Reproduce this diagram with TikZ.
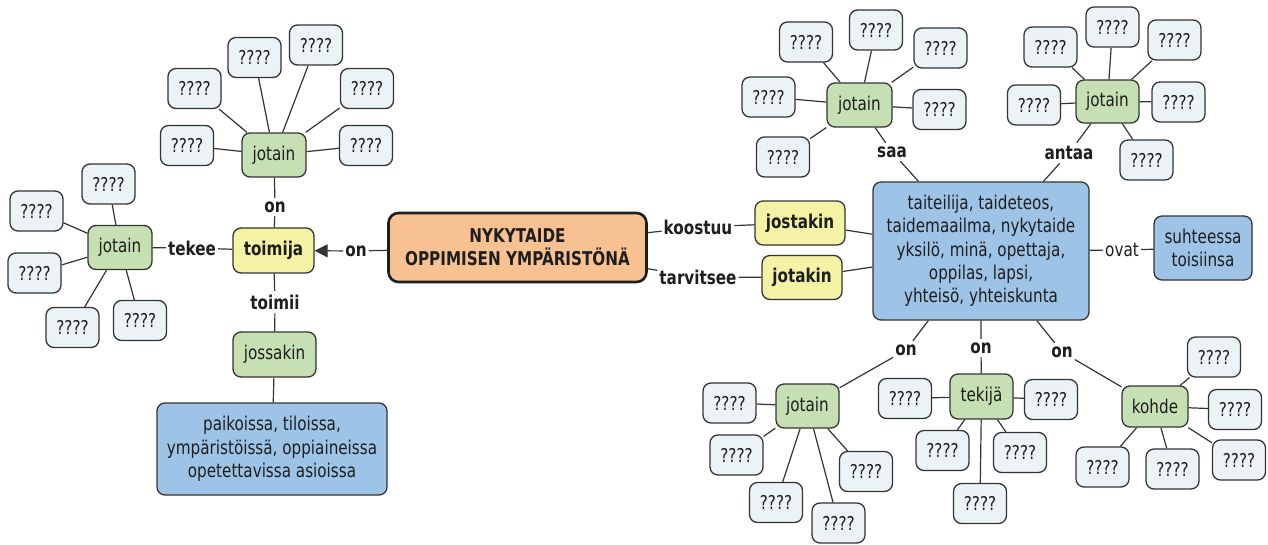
\documentclass[tikz,border=0pt]{standalone}
\usepackage{fontspec}
\setmainfont{DejaVuSans.ttf}[BoldFont=DejaVuSans-Bold.ttf, FakeStretch=0.8]
\usetikzlibrary{arrows.meta}

\definecolor{qfill}{HTML}{EBF3F7}
\definecolor{gfill}{HTML}{C6E0B4}
\definecolor{yfill}{HTML}{F4F2A4}
\definecolor{bfill}{HTML}{9DC3E6}
\definecolor{ofill}{HTML}{F8C192}
\definecolor{edge}{HTML}{333333}
\definecolor{ink}{HTML}{1E1E1E}

\tikzset{
  box/.style={draw=edge, line width=1.3pt, rounded corners=8pt, inner sep=0pt,
              text=ink, align=center},
  qbox/.style={box, fill=qfill, minimum width=53pt, minimum height=40pt},
  gbox/.style={box, fill=gfill, minimum height=44pt},
  ybox/.style={box, fill=yfill, minimum height=44pt, font=\bfseries},
  bbox/.style={box, fill=bfill},
  mainbox/.style={box, fill=ofill, draw=ink, line width=2.6pt, rounded corners=10pt,
                  font=\bfseries},
  link/.style={inner xsep=2pt, inner ysep=3.5pt, text=ink, font=\bfseries},
  plainlink/.style={inner xsep=2pt, inner ysep=3.5pt, text=ink},
  wire/.style={draw=edge, line width=1.2pt},
}

\begin{document}
\begin{tikzpicture}[x=1pt, y=-1pt]
\fontsize{19}{23.3}\selectfont
\useasboundingbox (0,0) rectangle (1268,544);

% ---------- central concept ----------
\node[mainbox, minimum width=258pt, minimum height=69pt] (main) at (517.5,247.5)
  {NYKYTAIDE\\OPPIMISEN YMPÄRISTÖNÄ};

% ---------- left branch: toimija ----------
\node[ybox, minimum width=81pt, minimum height=45pt] (toim) at (273.5,250.5) {toimija};
\node[link] (on0) at (356,251) {on};
\draw[wire] (main) -- (on0);
\draw[wire, -{Triangle[length=13pt, width=13pt]}] (on0) -- (toim);

% upper jotain
\node[gbox, minimum width=64pt] (jA) at (274,155) {jotain};
\node[link] (onA) at (275,207) {on};
\draw[wire] (jA) -- (onA) -- (toim);
\foreach \n/\p in {1/{(187,145.5)}, 2/{(194.5,88.5)}, 3/{(254.5,57.5)},
                   4/{(316,45)}, 5/{(367,88.5)}, 6/{(366,145.5)}} {
  \node[qbox] (qA\n) at \p {????};
  \draw[wire] (jA) -- (qA\n);
}

% left jotain
\node[gbox, minimum width=64pt] (jB) at (120,247.5) {jotain};
\node[link] (tekee) at (192,248) {tekee};
\draw[wire] (jB) -- (tekee) -- (toim);
\foreach \n/\p in {1/{(108.5,184)}, 2/{(36.5,211)}, 3/{(34.5,273)},
                   4/{(72.5,327.5)}, 5/{(140,320.5)}} {
  \node[qbox] (qB\n) at \p {????};
  \draw[wire] (jB) -- (qB\n);
}

% jossakin
\node[link] (toimii) at (275,302) {toimii};
\node[gbox, minimum width=83pt, minimum height=45pt] (joss) at (274.5,354.5) {jossakin};
\node[bbox, minimum width=230pt, minimum height=92pt] (paik) at (272,449)
  {paikoissa, tiloissa,\\ympäristöissä, oppiaineissa\\opetettavissa asioissa};
\draw[wire] (toim) -- (toimii) -- (joss);
\draw[wire] (joss) -- (paik);

% ---------- right branch ----------
\node[ybox, minimum width=90pt] (jost) at (800,223) {jostakin};
\node[ybox, minimum width=80pt] (jota) at (802,277.5) {jotakin};
\node[link] (koost) at (698,227) {koostuu};
\node[link] (tarv) at (698,277) {tarvitsee};
\draw[wire] (main) -- (koost) -- (jost);
\draw[wire] (main) -- (tarv) -- (jota);

\node[bbox, minimum width=216pt, minimum height=138pt] (big) at (981,251)
  {taiteilija, taideteos,\\taidemaailma, nykytaide\\yksilö, minä, opettaja,\\oppilas, lapsi,\\yhteisö, yhteiskunta};
\draw[wire] (jost) -- (big);
\draw[wire] (jota) -- (big);

\node[plainlink] (ovat) at (1122,250) {ovat};
\node[bbox, minimum width=98pt, minimum height=64pt] (suht) at (1203,248)
  {suhteessa\\toisiinsa};
\draw[wire] (big) -- (ovat) -- (suht);

% saa
\node[gbox, minimum width=65pt] (jC) at (859.5,105) {jotain};
\node[link] (saa) at (892,152) {saa};
\draw[wire] (jC) -- (saa) -- (big);
\foreach \n/\p in {1/{(806,42)}, 2/{(876,30)}, 3/{(940.5,48)},
                   4/{(768.5,97)}, 5/{(939.5,109.5)}, 6/{(783,157)}} {
  \node[qbox] (qC\n) at \p {????};
  \draw[wire] (jC) -- (qC\n);
}

% antaa
\node[gbox, minimum width=63pt, minimum height=43pt] (jD) at (1107.5,101.5) {jotain};
\node[link] (antaa) at (1069,153) {antaa};
\draw[wire] (jD) -- (antaa) -- (big);
\foreach \n/\p in {1/{(1050.5,47)}, 2/{(1112.5,27)}, 3/{(1174.5,40)},
                   4/{(1034,105)}, 5/{(1178.5,102)}, 6/{(1146.5,160)}} {
  \node[qbox] (qD\n) at \p {????};
  \draw[wire] (jD) -- (qD\n);
}

% bottom jotain
\node[link] (onE) at (906,350) {on};
\node[gbox, minimum width=63pt] (jE) at (807.5,406) {jotain};
\draw[wire] (big) -- (onE) -- (jE);
\foreach \n/\p in {1/{(729.5,403)}, 2/{(736.5,455)}, 3/{(776,502.5)},
                   4/{(838.5,523)}, 5/{(866,471.5)}} {
  \node[qbox] (qE\n) at \p {????};
  \draw[wire] (jE) -- (qE\n);
}

% tekijä
\node[link] (onF) at (981,348) {on};
\node[gbox, minimum width=63pt, minimum height=45pt] (tek) at (981.5,396.5) {tekijä};
\draw[wire] (big) -- (onF) -- (tek);
\foreach \n/\p in {1/{(905,398.5)}, 2/{(1051,399.5)}, 3/{(942.5,450.5)},
                   4/{(1020,452.5)}, 5/{(980,503.5)}} {
  \node[qbox] (qF\n) at \p {????};
  \draw[wire] (tek) -- (qF\n);
}

% kohde
\node[link] (onG) at (1062,352) {on};
\node[gbox, minimum width=66pt, minimum height=41pt] (koh) at (1155,406.5) {kohde};
\draw[wire] (big) -- (onG) -- (koh);
\foreach \n/\p in {1/{(1214,357)}, 2/{(1235,409.5)}, 3/{(1239,460)},
                   4/{(1172.5,469)}, 5/{(1102.5,467)}} {
  \node[qbox] (qG\n) at \p {????};
  \draw[wire] (koh) -- (qG\n);
}
\end{tikzpicture}
\end{document}
